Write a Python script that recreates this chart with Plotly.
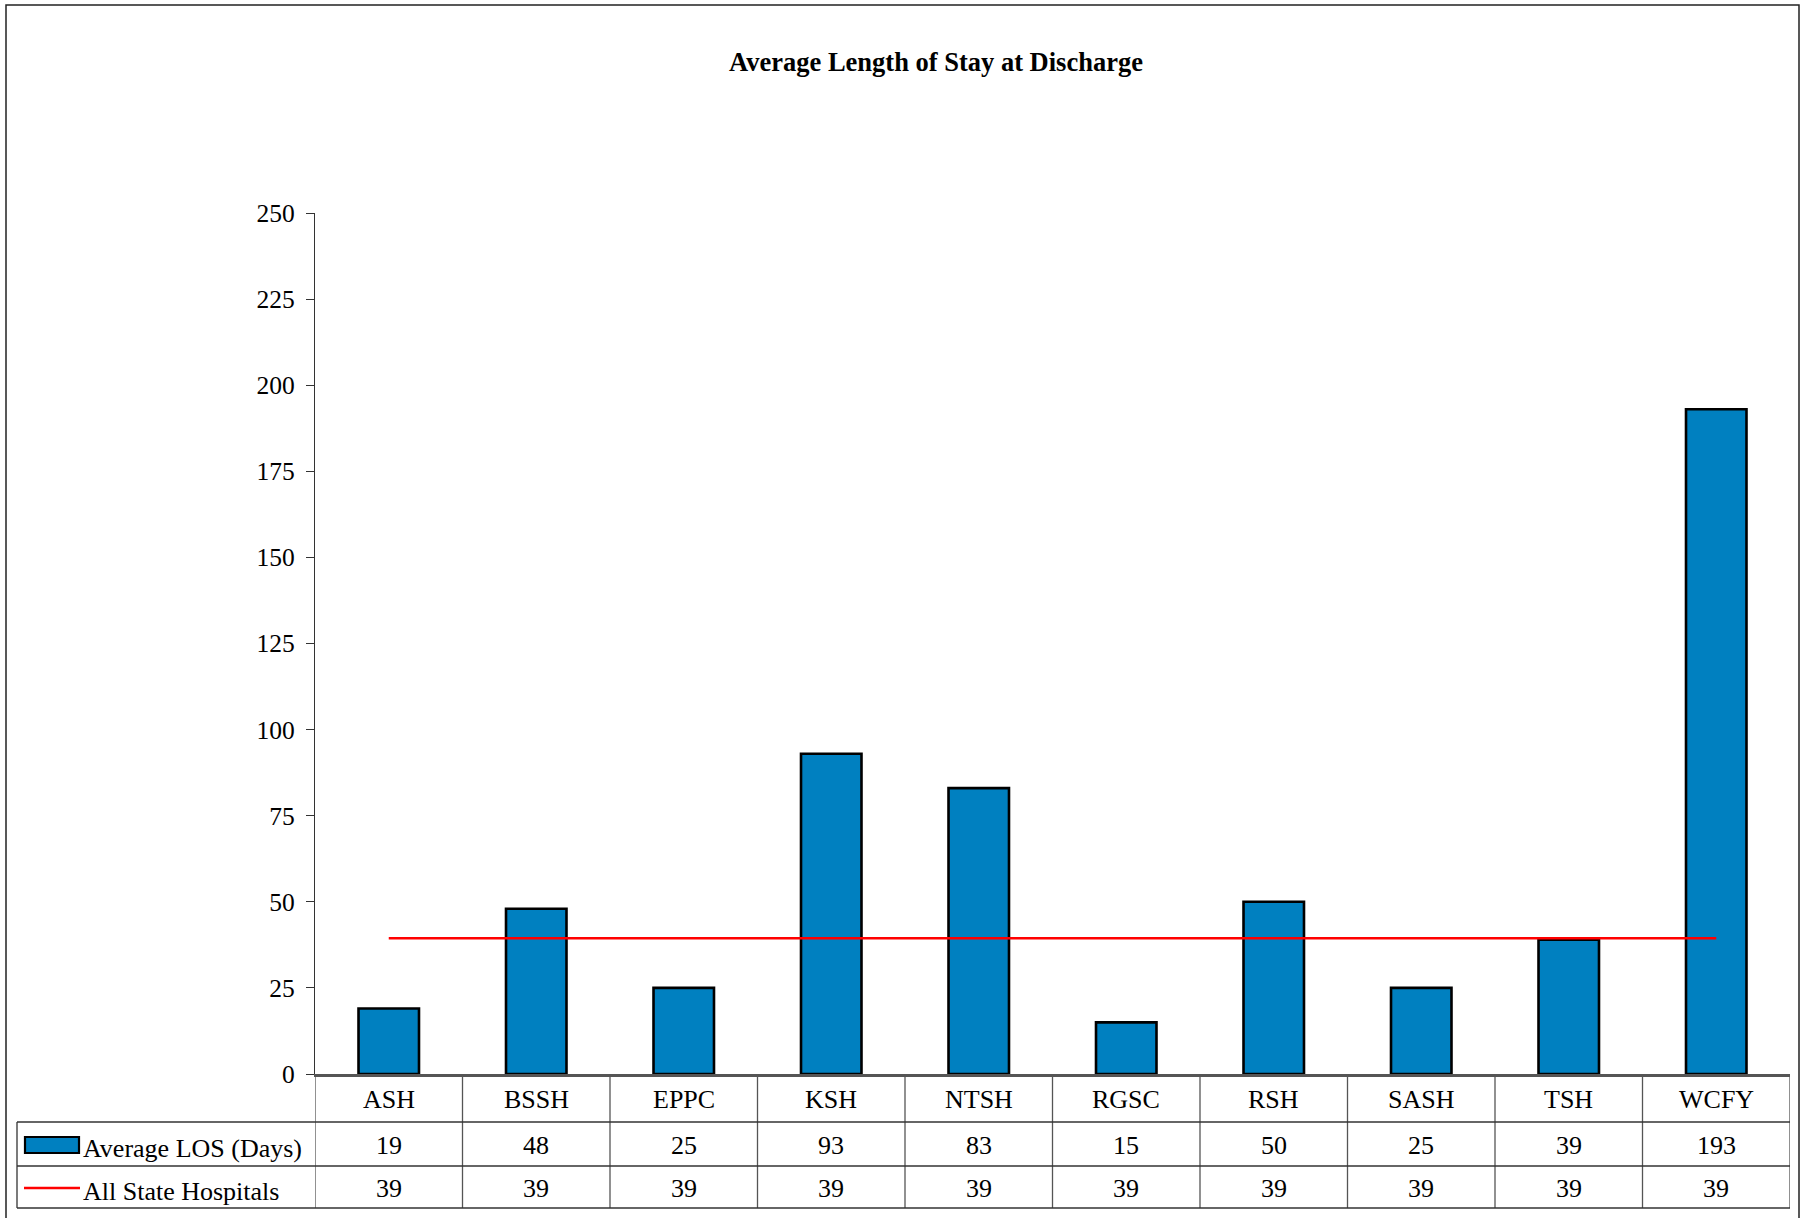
import plotly.graph_objects as go

categories = ["ASH", "BSSH", "EPPC", "KSH", "NTSH", "RGSC", "RSH", "SASH", "TSH", "WCFY"]
avg_los = [19, 48, 25, 93, 83, 15, 50, 25, 39, 193]
all_state = [39.4, 39.4, 39.4, 39.4, 39.4, 39.4, 39.4, 39.4, 39.4, 39.4]
series_names = ["Average LOS (Days)", "All State Hospitals"]
y_ticks = [0, 25, 50, 75, 100, 125, 150, 175, 200, 225, 250]
title_text = "Average Length of Stay at Discharge"

W, H = 1805, 1218
L, R, T, B = 315, 15, 213, 144
PW = W - L - R
PH = H - T - B
Y0 = H - B  # pixel of y=0


def px(X):
    return (X - L) / PW


def py(Y):
    return (Y0 - Y) / PH


FONT = "Liberation Serif, Times New Roman, serif"
BAR_COLOR = "#0080C0"
FS = 26

fig = go.Figure()
fig.add_trace(go.Bar(
    x=categories, y=avg_los, name=series_names[0],
    marker=dict(color=BAR_COLOR, line=dict(color="black", width=2.6)),
    width=0.41,
))
fig.add_trace(go.Scatter(
    x=categories, y=all_state, name=series_names[1], mode="lines",
    line=dict(color="#FF0000", width=2.5),
))

shapes = []
annotations = []
n = len(categories)
row_y = [Y0, 1122, 1166, 1208]
grid_col = "#333333"
# vertical separators through the data table
for i in range(n + 1):
    shapes.append(dict(type="line", xref="x", yref="paper", x0=i - 0.5, x1=i - 0.5,
                       y0=py(Y0), y1=py(row_y[-1]), line=dict(color="#555555", width=1.3)))
# legend column left border
shapes.append(dict(type="line", xref="paper", yref="paper", x0=px(17), x1=px(17),
                   y0=py(row_y[1]), y1=py(row_y[-1]), line=dict(color=grid_col, width=1.3)))
# horizontal row lines
for Yr in row_y[1:]:
    shapes.append(dict(type="line", xref="paper", yref="paper", x0=px(17), x1=1.0,
                       y0=py(Yr), y1=py(Yr), line=dict(color=grid_col, width=1.3)))
# outer chart border (bottom edge lies just outside the page)
shapes.append(dict(type="rect", xref="paper", yref="paper", x0=px(6), x1=px(1799),
                   y0=py(1230), y1=py(5), line=dict(color="#222222", width=1.5),
                   fillcolor="rgba(0,0,0,0)", layer="below"))
# legend keys
shapes.append(dict(type="rect", xref="paper", yref="paper", x0=px(25), x1=px(79),
                   y0=py(1153), y1=py(1137), fillcolor=BAR_COLOR,
                   line=dict(color="black", width=2.2)))
shapes.append(dict(type="line", xref="paper", yref="paper", x0=px(24), x1=px(80),
                   y0=py(1188), y1=py(1188), line=dict(color="#FF0000", width=2.5)))

row_centers = [1099, 1145, 1188]
for i, c in enumerate(categories):
    annotations.append(dict(x=i, y=py(row_centers[0]), xref="x", yref="paper", text=c,
                            showarrow=False, xanchor="center", yanchor="middle",
                            font=dict(family=FONT, size=FS, color="black")))
    annotations.append(dict(x=i, y=py(row_centers[1]), xref="x", yref="paper",
                            text=f"{avg_los[i]:.0f}", showarrow=False,
                            xanchor="center", yanchor="middle",
                            font=dict(family=FONT, size=FS, color="black")))
    annotations.append(dict(x=i, y=py(row_centers[2]), xref="x", yref="paper",
                            text=f"{all_state[i]:.0f}", showarrow=False,
                            xanchor="center", yanchor="middle",
                            font=dict(family=FONT, size=FS, color="black")))
for k, nm in enumerate(series_names):
    annotations.append(dict(x=px(81), y=py(row_centers[k + 1] + 3), xref="paper", yref="paper",
                            text=nm, showarrow=False, xanchor="left", yanchor="middle",
                            font=dict(family=FONT, size=FS, color="black")))

fig.update_layout(
    width=W, height=H,
    margin=dict(l=L, r=R, t=T, b=B, pad=0),
    paper_bgcolor="white", plot_bgcolor="white",
    showlegend=False,
    title=dict(text=f"<b>{title_text}</b>", x=px(936), xref="paper", xanchor="center",
               y=1 - 62 / H, yref="container", yanchor="middle",
               font=dict(family=FONT, size=26.5, color="black")),
    shapes=shapes, annotations=annotations,
    bargap=0.59,
)
fig.update_xaxes(range=[-0.5, n - 0.5], showticklabels=False, ticks="",
                 showline=True, linecolor="#555555", linewidth=2.5, showgrid=False,
                 zeroline=False, fixedrange=True)
fig.update_yaxes(range=[0, 250], tickvals=y_ticks, ticks="outside", ticklen=8,
                 tickcolor="#333333", tickwidth=1.3,
                 showline=True, linecolor="#333333", linewidth=1.3, showgrid=False,
                 zeroline=False, ticklabelstandoff=6,
                 tickfont=dict(family=FONT, size=25.5, color="black"), fixedrange=True)

fig.write_html("out.html", config={"displayModeBar": False},
               post_script="document.body.style.margin='0';document.body.style.overflow='hidden';")
